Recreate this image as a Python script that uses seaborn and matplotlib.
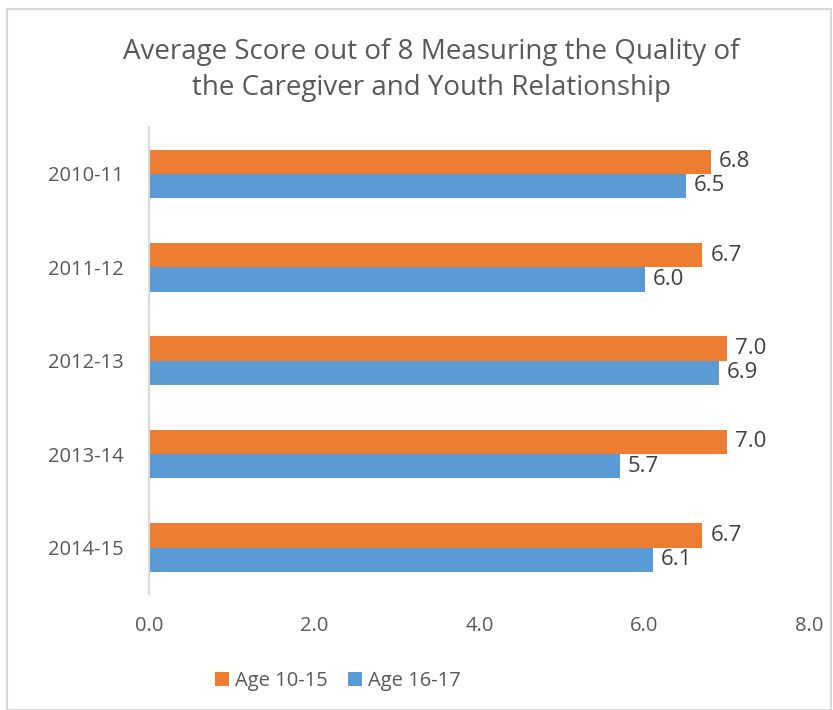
import pandas as pd
import matplotlib.pyplot as plt
import seaborn as sns
from matplotlib.patches import Rectangle

years = ["2010-11", "2011-12", "2012-13", "2013-14", "2014-15"]
age_10_15 = [6.8, 6.7, 7.0, 7.0, 6.7]
age_16_17 = [6.5, 6.0, 6.9, 5.7, 6.1]
groups = ["Age 10-15", "Age 16-17"]
colors = ["#ED7D31", "#5B9BD5"]
x_ticks = [0, 2, 4, 6, 8]

df = pd.DataFrame({
    "year": years * 2,
    "score": age_10_15 + age_16_17,
    "group": [groups[0]] * len(years) + [groups[1]] * len(years),
})

sns.set_theme(style="white")
plt.rcParams["font.family"] = ["Open Sans", "DejaVu Sans"]

fig = plt.figure(figsize=(8.33, 7.10), dpi=100)
ax = fig.add_axes([0.179, 0.163, 0.793, 0.658])

sns.barplot(data=df, y="year", x="score", hue="group", orient="h",
            palette=colors, width=0.52, ax=ax, saturation=1,
            order=years, hue_order=groups, linewidth=0)

for cont in ax.containers:
    ax.bar_label(cont, fmt="%.1f", padding=6, fontsize=16, color="#404040")

ax.set_xlim(0, 8)
ax.set_xticks(x_ticks)
ax.set_xticklabels([f"{t:.1f}" for t in x_ticks])
ax.tick_params(axis="x", labelsize=14.5, labelcolor="#595959", pad=16, length=0)
ax.tick_params(axis="y", labelsize=14.5, labelcolor="#595959", pad=18, length=0)
ax.set_xlabel("")
ax.set_ylabel("")
for s in ["top", "right", "bottom"]:
    ax.spines[s].set_visible(False)
ax.spines["left"].set_color("#d9d9d9")
ax.spines["left"].set_linewidth(1.5)

ax.legend(loc="upper center", bbox_to_anchor=(0.286, -0.125), ncol=2, frameon=False,
          fontsize=14.5, handlelength=0.7, handleheight=0.7, handletextpad=0.3,
          columnspacing=1.0, labelcolor="#595959")

fig.text(0.518, 0.901, "Average Score out of 8 Measuring the Quality of\nthe Caregiver and Youth Relationship",
         ha="center", va="center", fontsize=20, color="#595959", linespacing=1.4)

fig.patches.append(Rectangle((0.008, 0.0), 0.99, 0.988, transform=fig.transFigure,
                             fill=False, edgecolor="#d9d9d9", linewidth=1.5))

fig.savefig("out.png", dpi=100)
